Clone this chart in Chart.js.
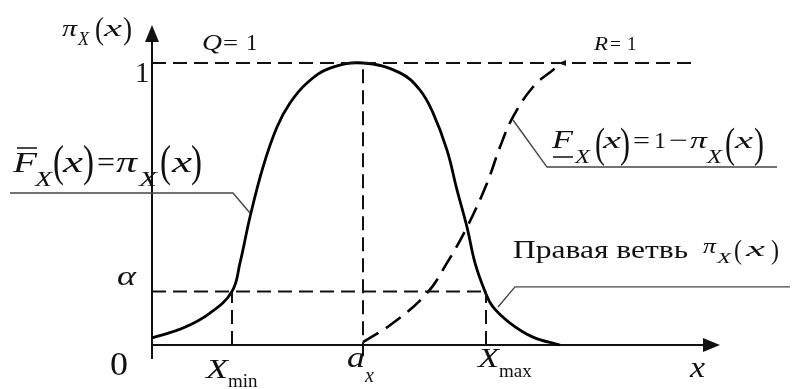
<!DOCTYPE html>
<html lang="ru">
<head>
  <meta charset="UTF-8" />
  <title>Функция возможности π_X(x)</title>
  <script src="https://cdn.jsdelivr.net/npm/chart.js"></script>
  <style>
    html, body { margin: 0; padding: 0; background: #fff; }
    .chart-box { width: 795px; height: 389px; position: relative; }
  </style>
</head>
<body>
  <div class="chart-box"><canvas id="piChart"></canvas></div>

  <script>
    // --- data (x in abstract units, y in possibility 0..1) ---
    const piX   = [0, 0.31, 0.58, 0.80, 0.88, 0.98, 1.11, 1.25, 1.38, 1.55, 1.78, 2.11, 2.48, 2.68, 2.81, 2.95, 3.05, 3.15, 3.23, 3.33, 3.41, 3.58, 3.81, 4.08];
    const piY   = [0.025, 0.06, 0.113, 0.19, 0.291, 0.454, 0.631, 0.773, 0.858, 0.929, 0.982, 1.0, 0.965, 0.904, 0.823, 0.691, 0.55, 0.418, 0.291, 0.19, 0.135, 0.078, 0.028, 0.0];
    // F_X(x) = 1 - pi_X(x), right of a_x
    const lowFX = [2.11, 2.41, 2.75, 2.95, 3.15, 3.35, 3.48, 3.61, 3.81, 4.01, 4.11];
    const lowFY = [0.01, 0.078, 0.184, 0.291, 0.418, 0.574, 0.702, 0.809, 0.915, 0.975, 1.0];

    const alpha = 0.19;
    const aX = 2.11;
    const xMin = 0.80;
    const xMax = 3.34;
    const topLineEnd = 5.40;
    const xAxisEnd = 5.68;
    const yAxisEnd = 1.135;

    // leader lines from the formulas to the curves
    const leaderLeftX  = [-1.42, 0.81, 0.98];
    const leaderLeftY  = [0.539, 0.539, 0.468];
    const leaderTopX   = [3.61, 3.95, 6.25];
    const leaderTopY   = [0.798, 0.631, 0.631];
    const leaderLowX   = [3.46, 3.63, 6.38];
    const leaderLowY   = [0.135, 0.206, 0.206];

    const pts = (xs, ys) => xs.map((x, i) => ({ x: x, y: ys[i] }));
    const seg = (x1, y1, x2, y2) => [{ x: x1, y: y1 }, { x: x2, y: y2 }];

    const dashed = (data) => ({
      data: data, showLine: true, pointRadius: 0,
      borderColor: '#111', borderWidth: 2, borderDash: [14, 7]
    });
    const leader = (data) => ({
      data: data, showLine: true, pointRadius: 0,
      borderColor: '#444', borderWidth: 1.4
    });

    const SERIF = '"Liberation Serif", "Times New Roman", serif';

    // text pieces: [text, italic, size, x, baseline, width?]
    const labels = [
      ['π', 1, 24, 62, 36, 15], ['X', 1, 18, 78, 45], ['(', 0, 31, 95, 39, 9], ['x', 1, 24, 104, 36, 18], [')', 0, 31, 123, 39, 9],
      ['Q', 1, 24, 202, 50, 20], ['=', 0, 22, 223, 50, 15], ['1', 0, 23, 246, 50],
      ['1', 0, 29, 135, 82],
      ['R', 1, 19, 594, 50, 14], ['=', 0, 19, 610, 50, 11], ['1', 0, 19, 627, 50],
      ['F', 1, 30, 13, 172, 24], ['X', 1, 20, 35, 186, 17], ['(', 0, 45, 53, 176, 11], ['x', 1, 29, 63, 172, 20], [')', 0, 45, 83, 176, 11],
      ['=', 0, 29, 97, 172, 18], ['π', 1, 29, 116, 172, 21], ['X', 1, 20, 139, 186, 18], ['(', 0, 45, 160, 176, 11], ['x', 1, 29, 172, 172, 20], [')', 0, 45, 191, 176, 11],
      ['F', 1, 25, 552, 148, 21], ['X', 1, 18, 575, 163, 15], ['(', 0, 42, 595, 157, 10], ['x', 1, 24, 603, 148, 18], [')', 0, 42, 620, 157, 10],
      ['=', 0, 24, 633, 148, 17], ['1', 0, 24, 654, 148], ['−', 0, 24, 669, 148, 19], ['π', 1, 24, 690, 148, 17], ['X', 1, 18, 707, 163, 15],
      ['(', 0, 42, 725, 157, 10], ['x', 1, 24, 735, 148, 18], [')', 0, 42, 754, 157, 10],
      ['Правая ветвь', 0, 25, 513, 258, 175],
      ['π', 1, 21, 703, 253, 13], ['X', 1, 15, 717, 263, 14], ['(', 0, 28, 734, 259, 8], ['x', 1, 22, 746, 256, 19], [')', 0, 28, 771, 259, 8],
      ['α', 1, 28, 117, 285, 19],
      ['0', 0, 33, 110, 375, 18],
      ['X', 1, 27, 206, 378, 22], ['min', 0, 19, 228, 387],
      ['a', 1, 30, 347, 367, 18], ['x', 1, 20, 365, 382],
      ['X', 1, 27, 478, 367, 21], ['max', 0, 19, 499, 377],
      ['x', 1, 30, 690, 377, 15]
    ];

    const diagram = {
      id: 'diagram',
      beforeDatasetsDraw(chart) {
        const ctx = chart.ctx;
        const sx = chart.scales.x, sy = chart.scales.y;
        const x0 = sx.getPixelForValue(0), y0 = sy.getPixelForValue(0);
        ctx.save();
        ctx.strokeStyle = '#111';
        ctx.fillStyle = '#111';
        ctx.lineWidth = 2;
        // y axis
        const yTop = sy.getPixelForValue(yAxisEnd);
        ctx.beginPath();
        ctx.moveTo(x0, sy.getPixelForValue(-0.05));
        ctx.lineTo(x0, yTop + 10);
        ctx.stroke();
        ctx.beginPath();
        ctx.moveTo(x0, yTop);
        ctx.lineTo(x0 - 7, yTop + 17);
        ctx.lineTo(x0 + 7, yTop + 17);
        ctx.closePath();
        ctx.fill();
        // x axis
        const xEnd = sx.getPixelForValue(xAxisEnd);
        ctx.beginPath();
        ctx.moveTo(x0, y0);
        ctx.lineTo(xEnd - 10, y0);
        ctx.stroke();
        ctx.beginPath();
        ctx.moveTo(xEnd, y0);
        ctx.lineTo(xEnd - 17, y0 - 7);
        ctx.lineTo(xEnd - 17, y0 + 7);
        ctx.closePath();
        ctx.fill();
        ctx.restore();
      },
      afterDraw(chart) {
        const ctx = chart.ctx;
        ctx.save();
        ctx.fillStyle = '#111';
        ctx.textBaseline = 'alphabetic';
        labels.forEach(([s, it, size, x, y, w]) => {
          ctx.font = (it ? 'italic ' : '') + size + 'px ' + SERIF;
          if (w) {
            const m = ctx.measureText(s).width;
            ctx.save();
            ctx.translate(x, y);
            ctx.scale(w / m, 1);
            ctx.fillText(s, 0, 0);
            ctx.restore();
          } else {
            ctx.fillText(s, x, y);
          }
        });
        // overline on F (left), underline on F (right)
        ctx.strokeStyle = '#111';
        ctx.lineWidth = 1.6;
        ctx.beginPath();
        ctx.moveTo(17, 148); ctx.lineTo(37, 148);
        ctx.moveTo(553, 157); ctx.lineTo(573, 157);
        ctx.stroke();
        // small arrow tip where F_X reaches R = 1
        const px = chart.scales.x.getPixelForValue(4.11), py = chart.scales.y.getPixelForValue(1);
        ctx.fillStyle = '#111';
        ctx.beginPath();
        ctx.moveTo(px - 4, py);
        ctx.lineTo(px + 3, py - 3);
        ctx.lineTo(px + 3, py + 3);
        ctx.closePath();
        ctx.fill();
        ctx.restore();
      }
    };

    new Chart(document.getElementById('piChart'), {
      type: 'scatter',
      data: {
        datasets: [
          dashed(seg(0, 1, topLineEnd, 1)),
          dashed(seg(0, alpha, 3.30, alpha)),
          dashed(seg(aX, -0.04, aX, 1)),
          dashed(seg(xMin, 0, xMin, alpha)),
          dashed(seg(xMax, 0, xMax, alpha)),
          leader(pts(leaderLeftX, leaderLeftY)),
          leader(pts(leaderTopX, leaderTopY)),
          leader(pts(leaderLowX, leaderLowY)),
          {
            label: 'π_X(x)',
            data: pts(piX, piY),
            showLine: true, pointRadius: 0,
            borderColor: '#000', borderWidth: 2.8,
            tension: 0.4
          },
          {
            label: 'F_X(x) = 1 − π_X(x)',
            data: pts(lowFX, lowFY),
            showLine: true, pointRadius: 0,
            borderColor: '#000', borderWidth: 2.6, borderDash: [18, 9],
            tension: 0.4
          }
        ]
      },
      options: {
        responsive: true,
        maintainAspectRatio: false,
        animation: false,
        events: [],
        layout: { padding: 0 },
        plugins: { legend: { display: false }, tooltip: { enabled: false } },
        scales: {
          x: { type: 'linear', display: false, min: -1.52, max: 6.43 },
          y: { type: 'linear', display: false, min: -0.156, max: 1.2234 }
        }
      },
      plugins: [diagram]
    });
  </script>
</body>
</html>
